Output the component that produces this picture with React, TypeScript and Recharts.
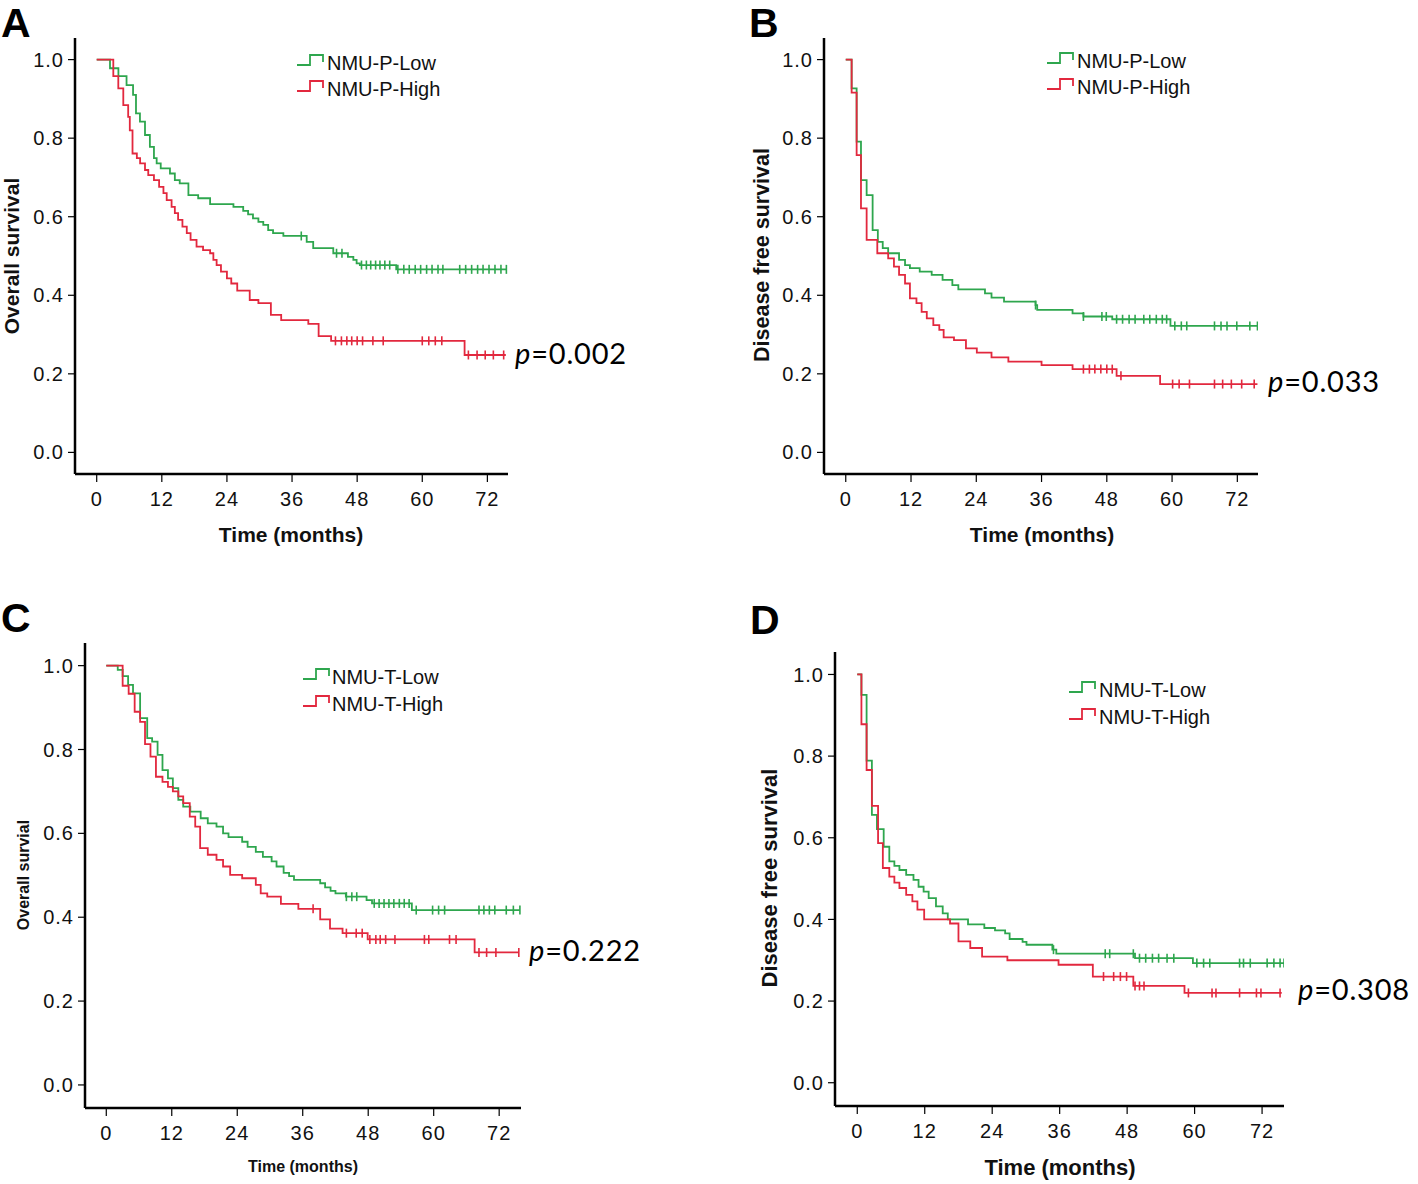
import React from 'react';
import { ComposedChart, Line, Scatter, XAxis, YAxis } from 'recharts';

type Pt = [number, number];

const monthTicks = [0, 12, 24, 36, 48, 60, 72];
const survivalTicks = [0, 0.2, 0.4, 0.6, 0.8, 1.0];

const legendP = ['NMU-P-Low', 'NMU-P-High'];
const legendT = ['NMU-T-Low', 'NMU-T-High'];
const pValues = ['0.002', '0.033', '0.222', '0.308'];
const panelLetters = ['A', 'B', 'C', 'D'];

// Panel A (overall survival, NMU-P)
const aLowCurve: Pt[] = [[0, 1], [2.45, 0.978], [4.0, 0.958], [5.5, 0.935], [6.7, 0.91], [7.24, 0.863], [7.97, 0.842], [8.9, 0.808], [9.8, 0.778], [10.55, 0.749], [11.05, 0.736], [11.8, 0.723], [13.5, 0.71], [14.4, 0.693], [15.3, 0.685], [16.9, 0.655], [18.7, 0.647], [20.9, 0.632], [25.2, 0.625], [27, 0.615], [27.9, 0.606], [28.8, 0.596], [29.8, 0.587], [30.7, 0.579], [31.6, 0.566], [32.5, 0.558], [34.4, 0.551], [38.7, 0.536], [39.9, 0.52], [43.6, 0.507], [46.3, 0.498], [47.3, 0.49], [47.9, 0.481], [48.5, 0.477], [55.2, 0.466], [75.5, 0.466]];
const aLowCensor = [37.7, 44.2, 45.2, 48.8, 49.7, 50.5, 51.4, 52.2, 53.1, 54.0, 55.5, 56.6, 57.6, 58.7, 59.7, 60.8, 61.8, 62.9, 63.8, 66.9, 68.0, 69.1, 70.2, 71.2, 72.3, 73.4, 74.5, 75.5];
const aHighCurve: Pt[] = [[0, 1], [3.06, 0.958], [3.98, 0.927], [4.9, 0.884], [5.8, 0.854], [6.1, 0.82], [6.6, 0.761], [7.4, 0.749], [8.0, 0.736], [8.9, 0.719], [9.5, 0.706], [10.55, 0.693], [11.5, 0.676], [12.3, 0.66], [12.9, 0.642], [13.8, 0.625], [14.4, 0.609], [15.0, 0.592], [15.8, 0.575], [16.6, 0.558], [17.3, 0.541], [18.4, 0.524], [19.6, 0.515], [20.9, 0.507], [21.5, 0.49], [22.1, 0.477], [22.9, 0.46], [24.0, 0.443], [24.8, 0.43], [25.9, 0.412], [28.2, 0.388], [29.8, 0.38], [32.1, 0.35], [34.0, 0.337], [39.0, 0.327], [40.9, 0.296], [43.2, 0.284], [67.8, 0.248], [75.4, 0.248]];
const aHighCensor = [44.0, 45.1, 46.1, 47.0, 48.0, 49.0, 50.9, 52.8, 60.0, 61.2, 62.4, 63.6, 68.5, 70.1, 71.6, 73.1, 75.0];

// Panel B (disease free survival, NMU-P)
const bLowCurve: Pt[] = [[0, 1], [1.08, 0.927], [2.0, 0.791], [2.8, 0.693], [3.84, 0.655], [4.94, 0.566], [5.9, 0.536], [6.8, 0.52], [7.8, 0.507], [9.8, 0.49], [10.9, 0.477], [11.8, 0.469], [13.6, 0.46], [15.8, 0.452], [17.8, 0.439], [19.6, 0.426], [20.7, 0.415], [25.6, 0.405], [26.8, 0.394], [29.1, 0.384], [34.9, 0.375], [35.2, 0.363], [41.7, 0.354], [43.7, 0.346], [49.0, 0.339], [59.7, 0.322], [75.8, 0.322]];
const bLowCensor = [34.9, 43.7, 47.1, 47.9, 49.8, 50.9, 52.1, 53.2, 54.8, 55.9, 57.1, 58.2, 59.0, 60.5, 61.7, 62.7, 67.8, 69.0, 70.1, 71.9, 74.3, 75.7];
const bHighCurve: Pt[] = [[0, 1], [1.08, 0.916], [2.0, 0.757], [2.8, 0.621], [3.84, 0.541], [5.8, 0.507], [7.8, 0.494], [8.86, 0.473], [9.8, 0.452], [10.9, 0.43], [11.8, 0.392], [13.0, 0.38], [13.95, 0.358], [14.9, 0.341], [16.1, 0.324], [17.2, 0.312], [18.0, 0.293], [19.9, 0.286], [22.1, 0.265], [24.1, 0.254], [26.8, 0.242], [29.9, 0.231], [36.0, 0.222], [41.7, 0.212], [49.8, 0.195], [57.8, 0.174], [75.7, 0.174]];
const bHighCensor = [43.7, 44.8, 45.8, 46.9, 48.0, 49.0, 50.6, 60.1, 61.3, 63.2, 67.8, 69.3, 70.9, 72.8, 75.1];

// Panel C (overall survival, NMU-T)
const cLowCurve: Pt[] = [[0, 1], [2.1, 0.99], [3.0, 0.975], [4.0, 0.954], [4.9, 0.934], [6.2, 0.875], [7.5, 0.827], [8.4, 0.819], [9.4, 0.787], [10.3, 0.751], [11.3, 0.731], [12.2, 0.708], [13.2, 0.68], [14.1, 0.664], [15.4, 0.652], [17.3, 0.636], [18.6, 0.624], [20.2, 0.616], [21.4, 0.6], [22.4, 0.591], [24.9, 0.58], [25.9, 0.568], [27.4, 0.556], [28.7, 0.544], [30.3, 0.533], [31.2, 0.521], [32.5, 0.506], [33.5, 0.498], [34.4, 0.489], [39.2, 0.481], [40.1, 0.471], [41.1, 0.463], [42.0, 0.457], [43.9, 0.449], [47.7, 0.441], [48.7, 0.433], [56.0, 0.417], [75.8, 0.417]];
const cLowCensor = [44.0, 45.0, 45.9, 49.1, 50.0, 50.9, 51.8, 52.7, 53.7, 54.6, 55.5, 56.8, 59.8, 60.9, 62.0, 68.3, 69.2, 70.2, 71.2, 73.3, 74.6, 75.8];
const cHighCurve: Pt[] = [[0, 1], [3.0, 0.952], [4.1, 0.933], [5.2, 0.89], [6.2, 0.866], [7.1, 0.813], [8.1, 0.783], [9.1, 0.735], [10.3, 0.723], [11.3, 0.711], [12.2, 0.7], [13.2, 0.688], [14.1, 0.672], [15.3, 0.64], [16.3, 0.616], [17.2, 0.565], [18.6, 0.549], [20.2, 0.537], [21.4, 0.521], [22.7, 0.501], [24.9, 0.493], [27.4, 0.477], [28.3, 0.457], [29.5, 0.449], [32.0, 0.432], [35.2, 0.42], [39.2, 0.395], [41.0, 0.373], [43.3, 0.362], [47.9, 0.347], [67.5, 0.316], [75.6, 0.316]];
const cHighCensor = [37.9, 44.0, 45.8, 46.9, 48.3, 49.4, 50.2, 51.2, 52.9, 58.3, 59.1, 62.9, 64.1, 68.3, 69.7, 71.4, 75.6];

// Panel D (disease free survival, NMU-T)
const dLowCurve: Pt[] = [[0, 1], [0.74, 0.95], [1.66, 0.789], [2.6, 0.656], [3.5, 0.621], [4.7, 0.578], [5.7, 0.542], [6.6, 0.531], [7.5, 0.521], [8.7, 0.509], [10.0, 0.497], [10.9, 0.48], [11.8, 0.468], [12.7, 0.452], [14.0, 0.432], [15.2, 0.415], [16.1, 0.40], [19.7, 0.388], [22.6, 0.379], [24.5, 0.373], [26.3, 0.366], [27.1, 0.352], [29.4, 0.345], [30.1, 0.338], [34.7, 0.326], [35.4, 0.316], [49.4, 0.305], [59.7, 0.293], [75.9, 0.293]];
const dLowCensor = [34.9, 44.1, 44.9, 49.1, 50.2, 51.3, 52.5, 53.6, 55.1, 56.3, 60.4, 61.6, 62.7, 68.0, 68.7, 69.9, 72.9, 74.1, 75.2, 75.9];
const dHighCurve: Pt[] = [[0, 1], [0.74, 0.878], [1.66, 0.766], [2.6, 0.678], [3.7, 0.587], [4.55, 0.526], [5.7, 0.505], [6.6, 0.49], [7.5, 0.477], [8.7, 0.46], [9.8, 0.444], [10.7, 0.424], [11.9, 0.40], [16.5, 0.39], [18.0, 0.346], [20.1, 0.33], [22.2, 0.309], [26.7, 0.30], [35.8, 0.289], [41.9, 0.26], [49.1, 0.237], [58.2, 0.22], [75.5, 0.22]];
const dHighCensor = [43.8, 45.6, 46.8, 47.9, 49.4, 50.2, 51.0, 58.9, 63.1, 63.8, 68.0, 71.0, 71.8, 75.2];

const GREEN = '#2ea64e';
const RED = '#e2283e';
const SANS = '"Liberation Sans", Arial, sans-serif';
const CAL = 'Lato, "Open Sans", sans-serif';

const stepValue = (curve: Pt[], t: number) => {
  let v = curve[0][1];
  for (const [ct, cv] of curve) {
    if (ct <= t) v = cv;
    else break;
  }
  return v;
};
const toRows = (curve: Pt[]) => curve.map(([t, s]) => ({ t, s }));
const censorRows = (times: number[], curve: Pt[]) => times.map((t) => ({ t, s: stepValue(curve, t) }));

const makeCensor = (color: string) => (props: any) => {
  const { cx, cy } = props;
  if (cx == null || cy == null) return <g />;
  return <line x1={cx} x2={cx} y1={cy - 4.5} y2={cy + 4.5} stroke={color} strokeWidth={1.6} />;
};

interface PanelProps {
  left: number;
  top: number;
  width: number;
  height: number;
  plot: { l: number; t: number; r: number; b: number };
  xDomain: [number, number];
  yDomain: [number, number];
  low: Pt[];
  high: Pt[];
  lowCensor: number[];
  highCensor: number[];
}

function Panel(p: PanelProps) {
  const yw = p.plot.l - p.left;
  const xh = p.top + p.height - p.plot.b;
  const tickStyle = { fill: '#111', fontSize: 20, fontFamily: SANS, letterSpacing: 1 };
  return (
    <div style={{ position: 'absolute', left: p.left, top: p.top }}>
      <ComposedChart
        width={p.width}
        height={p.height}
        margin={{ top: p.plot.t - p.top, right: p.left + p.width - p.plot.r, bottom: 0, left: 0 }}
      >
        <XAxis
          type="number"
          dataKey="t"
          domain={p.xDomain}
          allowDataOverflow
          ticks={monthTicks}
          interval={0}
          height={xh}
          tickSize={8}
          tickMargin={10}
          axisLine={{ stroke: '#000', strokeWidth: 2.5 }}
          tickLine={{ stroke: '#000', strokeWidth: 1.2 }}
          tick={tickStyle}
        />
        <YAxis
          type="number"
          dataKey="s"
          domain={p.yDomain}
          allowDataOverflow
          ticks={survivalTicks}
          interval={0}
          width={yw}
          tickSize={7}
          tickMargin={4}
          tickFormatter={(v: number) => v.toFixed(1)}
          axisLine={{ stroke: '#000', strokeWidth: 2.5 }}
          tickLine={{ stroke: '#000', strokeWidth: 1.2 }}
          tick={tickStyle}
        />
        <Line data={toRows(p.low)} dataKey="s" type="stepAfter" stroke={GREEN} strokeWidth={1.8} dot={false} activeDot={false} isAnimationActive={false} />
        <Line data={toRows(p.high)} dataKey="s" type="stepAfter" stroke={RED} strokeWidth={1.8} dot={false} activeDot={false} isAnimationActive={false} />
        <Scatter data={censorRows(p.lowCensor, p.low)} dataKey="s" shape={makeCensor(GREEN)} isAnimationActive={false} />
        <Scatter data={censorRows(p.highCensor, p.high)} dataKey="s" shape={makeCensor(RED)} isAnimationActive={false} />
      </ComposedChart>
    </div>
  );
}

function LegendBlock({ x, text, baselines, labels }: { x: number; text: number; baselines: number[]; labels: string[] }) {
  const colors = [GREEN, RED];
  return (
    <g>
      {baselines.map((b, i) => (
        <g key={i}>
          <path d={`M${x} ${b - 5} H${x + 13} V${b - 15} H${x + 26} V${b - 8}`} fill="none" stroke={colors[i]} strokeWidth={1.8} />
          <text x={text} y={b} fontSize={20} fontFamily={SANS} fill="#111">{labels[i]}</text>
        </g>
      ))}
    </g>
  );
}

export default function App() {
  return (
    <div style={{ position: 'absolute', left: 0, top: 0, width: 1418, height: 1184, background: '#fff', overflow: 'hidden' }}>
      <Panel left={0} top={0} width={520} height={530} plot={{ l: 75, t: 38, r: 508, b: 474 }} xDomain={[-4.0, 75.8]} yDomain={[-0.055, 1.055]} low={aLowCurve} high={aHighCurve} lowCensor={aLowCensor} highCensor={aHighCensor} />
      <Panel left={750} top={0} width={520} height={530} plot={{ l: 824, t: 38, r: 1258, b: 474 }} xDomain={[-4.0, 75.8]} yDomain={[-0.055, 1.055]} low={bLowCurve} high={bHighCurve} lowCensor={bLowCensor} highCensor={bHighCensor} />
      <Panel left={0} top={600} width={540} height={570} plot={{ l: 85, t: 643, r: 521, b: 1108 }} xDomain={[-3.9, 76.0]} yDomain={[-0.055, 1.054]} low={cLowCurve} high={cHighCurve} lowCensor={cLowCensor} highCensor={cHighCensor} />
      <Panel left={750} top={600} width={545} height={570} plot={{ l: 835, t: 652, r: 1284, b: 1106 }} xDomain={[-3.96, 75.9]} yDomain={[-0.057, 1.055]} low={dLowCurve} high={dHighCurve} lowCensor={dLowCensor} highCensor={dHighCensor} />

      <svg width={1418} height={1184} style={{ position: 'absolute', left: 0, top: 0, pointerEvents: 'none' }}>
        <g fontFamily={SANS} fontWeight="bold" fontSize={41} fill="#000">
          <text x={1} y={37}>{panelLetters[0]}</text>
          <text x={749} y={37}>{panelLetters[1]}</text>
          <text x={1} y={632}>{panelLetters[2]}</text>
          <text x={750} y={634}>{panelLetters[3]}</text>
        </g>
        <g fontFamily={SANS} fontWeight="bold" fill="#111" textAnchor="middle">
          <text transform="translate(19,256) rotate(-90)" fontSize={21}>Overall survival</text>
          <text transform="translate(769,255) rotate(-90)" fontSize={21.5}>Disease free survival</text>
          <text transform="translate(29,875) rotate(-90)" fontSize={16}>Overall survial</text>
          <text transform="translate(777,878) rotate(-90)" fontSize={22}>Disease free survival</text>
          <text x={291} y={542} fontSize={21}>Time (months)</text>
          <text x={1042} y={542} fontSize={21}>Time (months)</text>
          <text x={303} y={1172} fontSize={16}>Time (months)</text>
          <text x={1060} y={1175} fontSize={22}>Time (months)</text>
        </g>
        <g fontFamily={CAL} fontSize={29} fill="#000" letterSpacing={0.8}>
          <text x={515} y={364}><tspan fontStyle="italic">p</tspan>={pValues[0]}</text>
          <text x={1268} y={392}><tspan fontStyle="italic">p</tspan>={pValues[1]}</text>
          <text x={529} y={961}><tspan fontStyle="italic">p</tspan>={pValues[2]}</text>
          <text x={1298} y={1000}><tspan fontStyle="italic">p</tspan>={pValues[3]}</text>
        </g>
        <LegendBlock x={297} text={327} baselines={[70, 96]} labels={legendP} />
        <LegendBlock x={1047} text={1077} baselines={[68, 94]} labels={legendP} />
        <LegendBlock x={303} text={332} baselines={[684, 711]} labels={legendT} />
        <LegendBlock x={1069} text={1099} baselines={[697, 724]} labels={legendT} />
      </svg>
    </div>
  );
}
